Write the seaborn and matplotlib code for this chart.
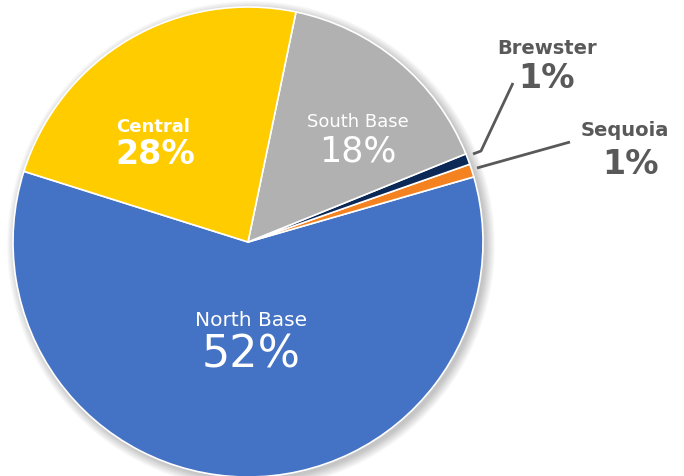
import matplotlib
matplotlib.use("Agg")
import matplotlib.pyplot as plt
import seaborn as sns
from matplotlib.patches import Circle

# slices, counter-clockwise from the Central / North Base edge
sites = ["North Base", "Sequoia", "Brewster", "South Base", "Central"]
shares = [59.3, 0.9, 0.75, 15.6, 23.4]          # wedge sizes as drawn
pct_text = ["52%", "1%", "1%", "18%", "28%"]     # printed labels
colors = ["#4472C4", "#F58220", "#0C2857", "#B1B1B1", "#FFCC00"]

sns.set_style("white")
plt.rcParams["font.family"] = ["DejaVu Sans"]

W, H = 684, 476
fig = plt.figure(figsize=(W / 100, H / 100), dpi=100)
ax = fig.add_axes([0, 0, 1, 1])

cx, cy, R = 248, H - 242, 235

# soft drop shadow
for i in range(10):
    ax.add_patch(Circle((cx + 3, cy - 3), R + 9 - i, color="black",
                        alpha=0.025, lw=0, zorder=0))

wedges, _ = ax.pie(shares, colors=colors, startangle=162.5, counterclock=True,
                   center=(cx, cy), radius=R,
                   wedgeprops=dict(edgecolor="white", linewidth=1.2))
for w in wedges:
    w.set_zorder(2)

ax.set_xlim(0, W)
ax.set_ylim(0, H)
ax.set_aspect("equal")
ax.axis("off")

def py(y):
    return H - y

# inside labels (name, percent) : positions in pixels
inside = {
    "Central": ((153, 127), (155, 155), 13, 24, "bold"),
    "South Base": ((358, 122), (358, 151), 13, 25, "normal"),
    "North Base": ((251, 320), (251, 355), 14.5, 32, "normal"),
}
for name, (p1, p2, s1, s2, wt) in inside.items():
    k = sites.index(name)
    ax.text(p1[0], py(p1[1]), name, color="white", fontsize=s1,
            fontweight=wt, ha="center", va="center", zorder=5)
    ax.text(p2[0], py(p2[1]), pct_text[k], color="white", fontsize=s2,
            fontweight=wt, ha="center", va="center", zorder=5)

# outside labels with leader lines
grey = "#595959"
outside = {
    "Brewster": ((547, 48), (546, 79), [(473, 154), (481, 151), (513, 83)]),
    "Sequoia": ((625, 130), (631, 164), [(477, 168), (570, 142)]),
}
for name, (p1, p2, line) in outside.items():
    k = sites.index(name)
    ax.text(p1[0], py(p1[1]), name, color=grey, fontsize=14,
            fontweight="bold", ha="center", va="center", zorder=5)
    ax.text(p2[0], py(p2[1]), pct_text[k], color=grey, fontsize=24,
            fontweight="bold", ha="center", va="center", zorder=5)
    xs = [p[0] for p in line]
    ys = [py(p[1]) for p in line]
    ax.plot(xs, ys, color=grey, lw=2, zorder=4, solid_capstyle="butt")

fig.savefig("out.png", dpi=100)
